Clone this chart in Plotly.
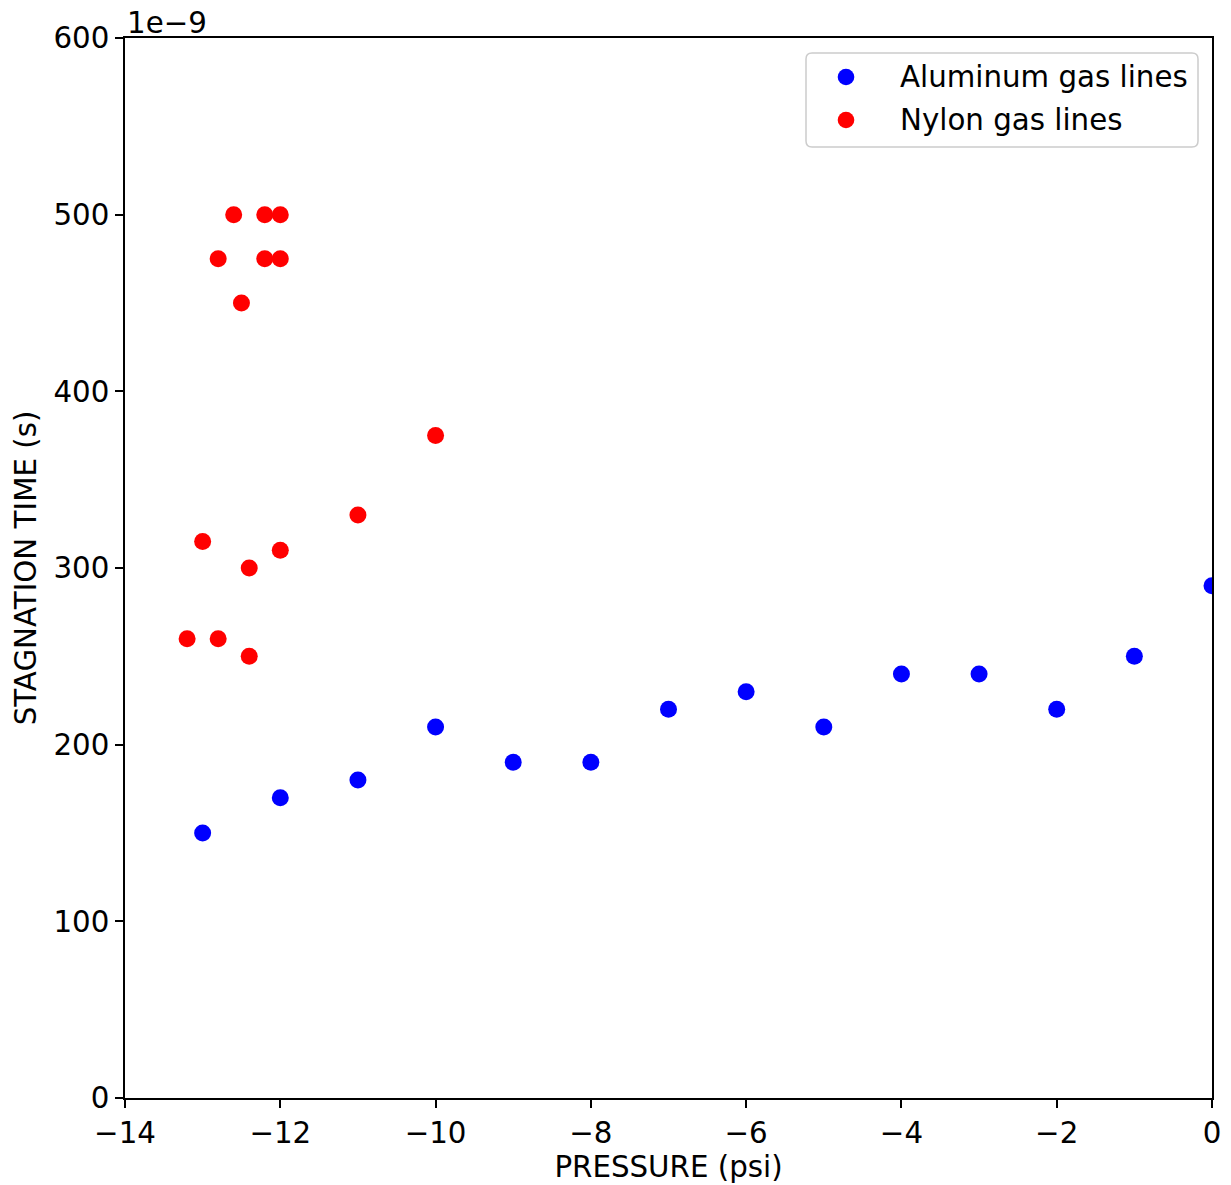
import plotly.graph_objects as go

# Data (stagnation time in seconds, pressure in psi)
al_pressure = [-13, -12, -11, -10, -9, -8, -7, -6, -5, -4, -3, -2, -1, 0]
al_time = [150e-9, 170e-9, 180e-9, 210e-9, 190e-9, 190e-9, 220e-9, 230e-9,
           210e-9, 240e-9, 240e-9, 220e-9, 250e-9, 290e-9]

ny_pressure = [-13.2, -13.0, -12.8, -12.8, -12.6, -12.5, -12.4, -12.4,
               -12.2, -12.2, -12.0, -12.0, -12.0, -11.0, -10.0]
ny_time = [260e-9, 315e-9, 475e-9, 260e-9, 500e-9, 450e-9, 300e-9, 250e-9,
           500e-9, 475e-9, 500e-9, 475e-9, 310e-9, 330e-9, 375e-9]

series_names = ["Aluminum gas lines", "Nylon gas lines"]
series_colors = ["#0000ff", "#ff0000"]

x_ticks = [-14, -12, -10, -8, -6, -4, -2, 0]
y_tick_units = [0, 100, 200, 300, 400, 500, 600]
y_scale = 1e-9

FONT = "DejaVu Sans"
FS = 29.3

W, H = 1231, 1185
ML, MR, MT, MB = 125, 19, 38, 87
PW, PH = W - ML - MR, H - MT - MB


def px_x(p):
    return (p - ML) / PW


def px_y(p):
    return (H - MB - p) / PH


fig = go.Figure()
fig.add_trace(go.Scatter(x=al_pressure, y=al_time, mode="markers",
                         name=series_names[0], showlegend=False,
                         marker=dict(color=series_colors[0], size=17, line=dict(width=0))))
fig.add_trace(go.Scatter(x=ny_pressure, y=ny_time, mode="markers",
                         name=series_names[1], showlegend=False,
                         marker=dict(color=series_colors[1], size=17, line=dict(width=0))))

axis_common = dict(showgrid=False, zeroline=False, showline=True, linecolor="black",
                   linewidth=1.5, mirror=True, ticks="outside", ticklen=8,
                   tickwidth=1.5, tickcolor="black", automargin=False,
                   tickfont=dict(family=FONT, size=FS, color="black"))

fig.update_xaxes(range=[-14, 0], tickvals=x_ticks,
                 ticktext=[("\u2212" + str(abs(v))) if v < 0 else str(v) for v in x_ticks],
                 title=dict(text="PRESSURE (psi)", font=dict(family=FONT, size=FS, color="black"),
                            standoff=6),
                 **axis_common)
fig.update_yaxes(range=[0, 600 * y_scale],
                 tickvals=[v * y_scale for v in y_tick_units],
                 ticktext=[str(v) for v in y_tick_units],
                 title=dict(text="STAGNATION TIME (s)", font=dict(family=FONT, size=FS, color="black"),
                            standoff=8),
                 **axis_common)

fig.add_annotation(text="1e\u22129", xref="paper", yref="paper", x=0, y=1,
                   xanchor="left", yanchor="bottom", showarrow=False, yshift=-4,
                   font=dict(family=FONT, size=FS, color="black"))

# Legend box (matplotlib-style, rounded corners)
bx0, bx1, by0, by1, r = 806, 1198, 53, 147, 6
path = (f"M {px_x(bx0 + r)},{px_y(by0)} L {px_x(bx1 - r)},{px_y(by0)} "
        f"Q {px_x(bx1)},{px_y(by0)} {px_x(bx1)},{px_y(by0 + r)} "
        f"L {px_x(bx1)},{px_y(by1 - r)} "
        f"Q {px_x(bx1)},{px_y(by1)} {px_x(bx1 - r)},{px_y(by1)} "
        f"L {px_x(bx0 + r)},{px_y(by1)} "
        f"Q {px_x(bx0)},{px_y(by1)} {px_x(bx0)},{px_y(by1 - r)} "
        f"L {px_x(bx0)},{px_y(by0 + r)} "
        f"Q {px_x(bx0)},{px_y(by0)} {px_x(bx0 + r)},{px_y(by0)} Z")
fig.add_shape(type="path", path=path, xref="paper", yref="paper",
              line=dict(color="#cccccc", width=1.5), fillcolor="rgba(255,255,255,0.8)",
              layer="above")

row_y = [77, 120]
for name, color, ry in zip(series_names, series_colors, row_y):
    rad = 8.3
    fig.add_shape(type="circle", xref="paper", yref="paper",
                  x0=px_x(846 - rad), x1=px_x(846 + rad),
                  y0=px_y(ry + rad), y1=px_y(ry - rad),
                  fillcolor=color, line=dict(width=0), layer="above")
    fig.add_annotation(text=name, xref="paper", yref="paper",
                       x=px_x(898), y=px_y(ry), xanchor="left", yanchor="middle",
                       showarrow=False, font=dict(family=FONT, size=FS, color="black"))

fig.update_layout(
    width=W, height=H,
    margin=dict(l=ML, r=MR, t=MT, b=MB, autoexpand=False),
    plot_bgcolor="white", paper_bgcolor="white",
    font=dict(family=FONT, size=FS, color="black"),
    showlegend=False,
)

fig.write_html("out.html")
